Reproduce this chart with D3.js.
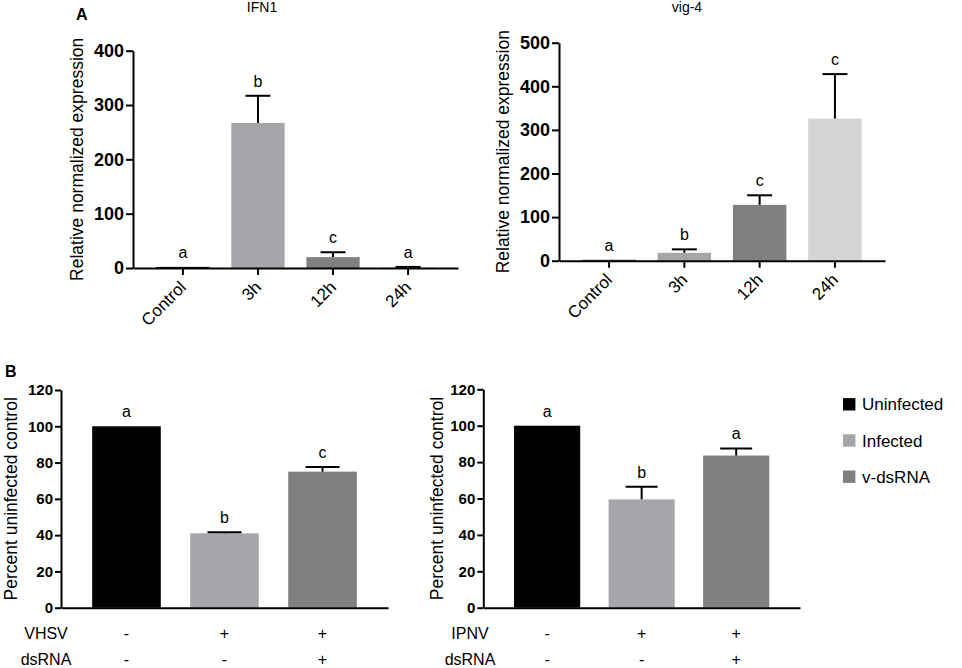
<!DOCTYPE html>
<html>
<head>
<meta charset="utf-8">
<script src="https://cdn.jsdelivr.net/npm/d3@7"></script>
<style>
  body { margin: 0; background: #fff; }
  svg { display: block; font-family: "Liberation Sans", Arial, sans-serif; }
  .axis path, .axis line { stroke: #000; stroke-width: 2; }
</style>
</head>
<body>
<svg id="fig" width="962" height="668"></svg>
<script>
let WIDTH = 962, HEIGHT = 668;

// panel A: time course
let timeCats = ["Control", "3h", "12h", "24h"];
let timeColors = ["#000000", "#a6a6aa", "#808080", "#d4d4d4"];

let ifnMean = [2, 267, 20, 1.5];
let ifnErr = [0, 50, 9, 0.5];
let ifnLetters = ["a", "b", "c", "a"];
let ifnTicks = [0, 100, 200, 300, 400];

let vigMean = [2, 18, 128, 326];
let vigErr = [0, 8, 22, 102];
let vigLetters = ["a", "b", "c", "c"];
let vigTicks = [0, 100, 200, 300, 400, 500];

// panel B: percent of uninfected control
let groupCats = ["Uninfected", "Infected", "v-dsRNA"];
let groupColors = ["#000000", "#a6a6aa", "#808080"];

let vhsvMean = [100, 41, 75];
let vhsvErr = [0, 0.6, 2.6];
let vhsvLetters = ["a", "b", "c"];

let ipnvMean = [100, 59.5, 83.6];
let ipnvErr = [0, 6.9, 3.9];
let ipnvLetters = ["a", "b", "a"];

let pctTicks = [0, 20, 40, 60, 80, 100, 120];
let virusSigns = ["-", "+", "+"];
let dsrnaSigns = ["-", "-", "+"];

let svg = d3.select("#fig");

function drawPanel(p) {
    let g = svg.append("g");

    let x = d3.scaleBand()
        .domain(p.cats)
        .range([p.x0, p.x1])
        .paddingInner(p.padIn)
        .paddingOuter(p.padOut);

    let y = d3.scaleLinear()
        .domain([0, p.yMax])
        .range([p.yBottom, p.yTop]);

    let rows = p.cats.map((c, i) => ({ cat: c, v: p.mean[i], e: p.err[i], letter: p.letters[i], color: p.colors[i] }));

    // bars
    g.selectAll("rect.bar")
        .data(rows)
        .join("rect")
        .attr("class", "bar")
        .attr("x", d => x(d.cat))
        .attr("width", x.bandwidth())
        .attr("y", d => y(d.v))
        .attr("height", d => y(0) - y(d.v))
        .attr("fill", d => d.color);

    // upper error bars
    let eb = g.selectAll("g.err")
        .data(rows.filter(d => d.e > 0))
        .join("g")
        .attr("class", "err")
        .attr("stroke", "#000")
        .attr("stroke-width", 2);
    eb.append("line")
        .attr("x1", d => x(d.cat) + x.bandwidth() / 2)
        .attr("x2", d => x(d.cat) + x.bandwidth() / 2)
        .attr("y1", d => y(d.v))
        .attr("y2", d => y(d.v + d.e));
    eb.append("line")
        .attr("x1", d => x(d.cat) + x.bandwidth() / 2 - p.cap / 2)
        .attr("x2", d => x(d.cat) + x.bandwidth() / 2 + p.cap / 2)
        .attr("y1", d => y(d.v + d.e))
        .attr("y2", d => y(d.v + d.e));

    // significance letters
    g.selectAll("text.sig")
        .data(rows)
        .join("text")
        .attr("class", "sig")
        .attr("x", d => x(d.cat) + x.bandwidth() / 2)
        .attr("y", d => y(d.v + d.e) - 9)
        .attr("text-anchor", "middle")
        .attr("font-size", 16)
        .text(d => d.letter);

    // axes
    let yAxis = d3.axisLeft(y)
        .tickValues(p.ticks)
        .tickSize(p.yTick)
        .tickSizeOuter(0)
        .tickPadding(2);
    g.append("g")
        .attr("class", "axis")
        .attr("transform", `translate(${p.x0},0)`)
        .call(yAxis)
        .call(s => s.selectAll("text")
            .attr("font-size", p.tickFont)
            .attr("font-weight", "bold")
            .attr("font-family", "'Liberation Sans', Arial, sans-serif")
            .attr("fill", "#000"));

    let xAxis = d3.axisBottom(x)
        .tickSize(p.xTick)
        .tickSizeOuter(0);
    let xg = g.append("g")
        .attr("class", "axis")
        .attr("transform", `translate(0,${p.yBottom})`)
        .call(xAxis);
    if (p.rotLabels) {
        xg.selectAll("text")
            .attr("x", 0).attr("y", 0).attr("dy", "0.35em")
            .attr("transform", "translate(0,16) rotate(-45)")
            .style("text-anchor", "end")
            .attr("font-size", 17)
            .attr("font-family", "'Liberation Sans', Arial, sans-serif")
            .attr("fill", "#000");
    } else {
        xg.selectAll("text").remove();
    }

    // y axis title
    g.append("text")
        .attr("transform", `translate(${p.yLabelX},${(p.yTop + p.yBottom) / 2}) rotate(-90)`)
        .attr("text-anchor", "middle")
        .attr("font-size", 17.5)
        .text(p.yLabel);

    if (p.title) {
        g.append("text")
            .attr("x", p.titleX)
            .attr("y", 12)
            .attr("text-anchor", "middle")
            .attr("font-size", 14)
            .text(p.title);
    }

    // +/- treatment rows under panel B
    if (p.signRows) {
        p.signRows.forEach(r => {
            g.append("text")
                .attr("x", p.rowLabelX)
                .attr("y", r.y)
                .attr("text-anchor", "middle")
                .attr("font-size", 16)
                .text(r.label);
            g.selectAll(null)
                .data(r.signs)
                .join("text")
                .attr("x", (d, i) => x(p.cats[i]) + x.bandwidth() / 2)
                .attr("y", r.y)
                .attr("text-anchor", "middle")
                .attr("font-size", 16)
                .text(d => d);
        });
    }
    return { x, y };
}

drawPanel({
    cats: timeCats, mean: ifnMean, err: ifnErr, letters: ifnLetters, colors: timeColors,
    x0: 133, x1: 458, padIn: 0.29, padOut: 0.31,
    yMax: 400, yBottom: 268, yTop: 50.7, ticks: ifnTicks,
    yTick: 7, xTick: 7, tickFont: 18, cap: 25, rotLabels: true,
    yLabel: "Relative normalized expression", yLabelX: 83, title: "IFN1", titleX: 262
});

drawPanel({
    cats: timeCats, mean: vigMean, err: vigErr, letters: vigLetters, colors: timeColors,
    x0: 559, x1: 885, padIn: 0.29, padOut: 0.31,
    yMax: 500, yBottom: 260.7, yTop: 42.7, ticks: vigTicks,
    yTick: 7, xTick: 7, tickFont: 18, cap: 25, rotLabels: true,
    yLabel: "Relative normalized expression", yLabelX: 509, title: "vig-4", titleX: 687
});

drawPanel({
    cats: groupCats, mean: vhsvMean, err: vhsvErr, letters: vhsvLetters, colors: groupColors,
    x0: 61, x1: 388, padIn: 0.3, padOut: 0.318,
    yMax: 120, yBottom: 607.7, yTop: 390, ticks: pctTicks,
    yTick: 6, xTick: 0, tickFont: 15, cap: 34, rotLabels: false,
    yLabel: "Percent uninfected control", yLabelX: 16.5,
    rowLabelX: 46,
    signRows: [{ label: "VHSV", y: 639, signs: virusSigns }, { label: "dsRNA", y: 665, signs: dsrnaSigns }]
});

drawPanel({
    cats: groupCats, mean: ipnvMean, err: ipnvErr, letters: ipnvLetters, colors: groupColors,
    x0: 483.3, x1: 800, padIn: 0.3, padOut: 0.325,
    yMax: 120, yBottom: 607.7, yTop: 389.3, ticks: pctTicks,
    yTick: 6, xTick: 0, tickFont: 15, cap: 32, rotLabels: false,
    yLabel: "Percent uninfected control", yLabelX: 442.5,
    rowLabelX: 470,
    signRows: [{ label: "IPNV", y: 639, signs: virusSigns }, { label: "dsRNA", y: 665, signs: dsrnaSigns }]
});

// panel letters
svg.append("text").attr("x", 76).attr("y", 20)
    .attr("font-size", 16).attr("font-weight", "bold").text("A");
svg.append("text").attr("x", 5).attr("y", 377)
    .attr("font-size", 16).attr("font-weight", "bold").text("B");

// legend
let legend = svg.append("g").attr("transform", "translate(843,404.3)");
let lg = legend.selectAll("g")
    .data(groupCats)
    .join("g")
    .attr("transform", (d, i) => `translate(0,${i * 36.2})`);
lg.append("rect")
    .attr("x", 0).attr("y", -6.2)
    .attr("width", 12.4).attr("height", 12.4)
    .attr("fill", (d, i) => groupColors[i]);
lg.append("text")
    .attr("x", 19).attr("y", 6)
    .attr("font-size", 17)
    .text(d => d);
</script>
</body>
</html>
